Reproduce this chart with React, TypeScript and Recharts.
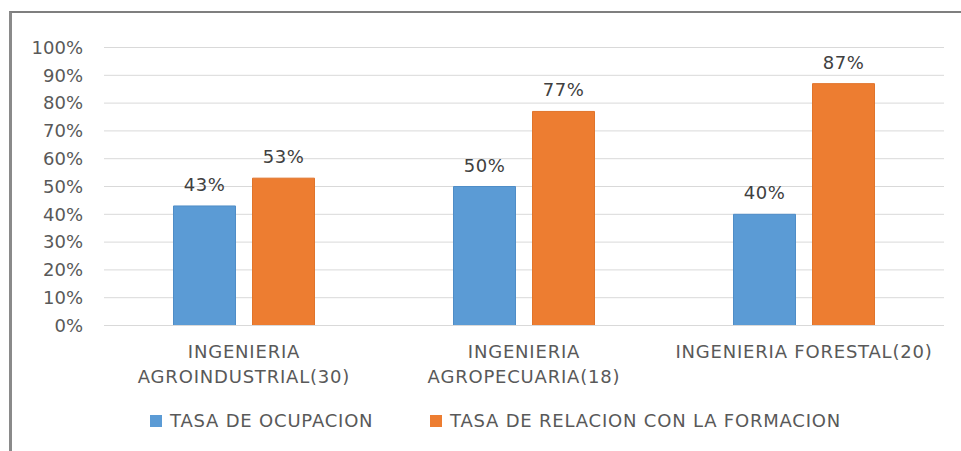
import React from 'react';
import { BarChart, Bar, XAxis, YAxis, CartesianGrid, Legend, LabelList } from 'recharts';

const categories = ['INGENIERIA AGROINDUSTRIAL(30)', 'INGENIERIA AGROPECUARIA(18)', 'INGENIERIA FORESTAL(20)'];
// how each category label breaks into lines in the original
const categoryLines = [
  ['INGENIERIA', 'AGROINDUSTRIAL(30)'],
  ['INGENIERIA', 'AGROPECUARIA(18)'],
  ['INGENIERIA FORESTAL(20)'],
];
const tasaOcupacion = [43, 50, 40];
const tasaRelacion = [53, 77, 87];
const yTicks = [0, 10, 20, 30, 40, 50, 60, 70, 80, 90, 100];

const seriesNames = ['TASA DE OCUPACION', 'TASA DE RELACION CON LA FORMACION'];
const colors = ['#5B9BD5', '#ED7D31'];

const FONT = '"DejaVu Sans", "Open Sans", sans-serif';
const FS = 18;
const SPACING = '0.8px';

const chartData = categories.map((name, i) => ({
  name,
  ocupacion: tasaOcupacion[i],
  relacion: tasaRelacion[i],
}));

function CategoryTick(props: any) {
  const { x, y, index } = props;
  const lines = categoryLines[index] || [props.payload.value];
  return (
    <text
      x={x}
      y={y}
      textAnchor="middle"
      fill="#595959"
      style={{ fontFamily: FONT, fontSize: FS, letterSpacing: SPACING }}
    >
      {lines.map((l, i) => (
        <tspan key={i} x={x} dy={i === 0 ? 32 : 25}>
          {l}
        </tspan>
      ))}
    </text>
  );
}

function LegendContent() {
  return (
    <div
      style={{
        display: 'flex',
        fontFamily: FONT,
        fontSize: FS,
        letterSpacing: SPACING,
        color: '#595959',
        whiteSpace: 'nowrap',
      }}
    >
      {seriesNames.map((n, i) => (
        <div key={n} style={{ display: 'flex', alignItems: 'center', width: i === 0 ? 280 : 'auto' }}>
          <span style={{ width: 12, height: 12, background: colors[i], marginRight: 8, display: 'inline-block' }} />
          <span>{n}</span>
        </div>
      ))}
    </div>
  );
}

export default function App() {
  return (
    <div style={{ position: 'fixed', left: 0, top: 0, width: 961, height: 451, background: '#fff' }}>
      <div
        style={{
          position: 'absolute',
          left: 9,
          top: 11,
          right: 0,
          bottom: 0,
          borderLeft: '3px solid #8a8a8a',
          borderTop: '2px solid #7f7f7f',
        }}
      />
      <BarChart
        width={961}
        height={451}
        data={chartData}
        margin={{ top: 47.5, right: 17, bottom: 95.5, left: 0 }}
        barGap={17}
        barCategoryGap={69.5}
        style={{ position: 'absolute', left: 0, top: 0 }}
      >
        <CartesianGrid vertical={false} stroke="#D9D9D9" />
        <XAxis
          dataKey="name"
          height={30}
          axisLine={{ stroke: '#D9D9D9' }}
          tickLine={false}
          tickSize={0}
          tickMargin={0}
          interval={0}
          tick={<CategoryTick />}
        />
        <YAxis
          width={104}
          domain={[0, 100]}
          ticks={yTicks}
          interval={0}
          tickFormatter={(v) => `${v}%`}
          axisLine={false}
          tickLine={false}
          tickSize={0}
          tickMargin={21}
          tick={{ fill: '#595959', fontSize: FS, fontFamily: FONT }}
        />
        <Legend
          layout="horizontal"
          verticalAlign="middle"
          align="center"
          wrapperStyle={{ left: 150, top: 410, width: 'auto', height: 'auto' }}
          content={<LegendContent />}
        />
        <Bar dataKey="ocupacion" name={seriesNames[0]} fill={colors[0]} stroke="#4F8DC7" strokeWidth={1} isAnimationActive={false}>
          <LabelList
            dataKey="ocupacion"
            position="top"
            offset={15}
            formatter={(v: any) => `${v}%`}
            style={{ fill: '#404040', fontSize: FS, fontFamily: FONT, letterSpacing: '0.5px' }}
          />
        </Bar>
        <Bar dataKey="relacion" name={seriesNames[1]} fill={colors[1]} stroke="#E0742B" strokeWidth={1} isAnimationActive={false}>
          <LabelList
            dataKey="relacion"
            position="top"
            offset={15}
            formatter={(v: any) => `${v}%`}
            style={{ fill: '#404040', fontSize: FS, fontFamily: FONT, letterSpacing: '0.5px' }}
          />
        </Bar>
      </BarChart>
    </div>
  );
}
